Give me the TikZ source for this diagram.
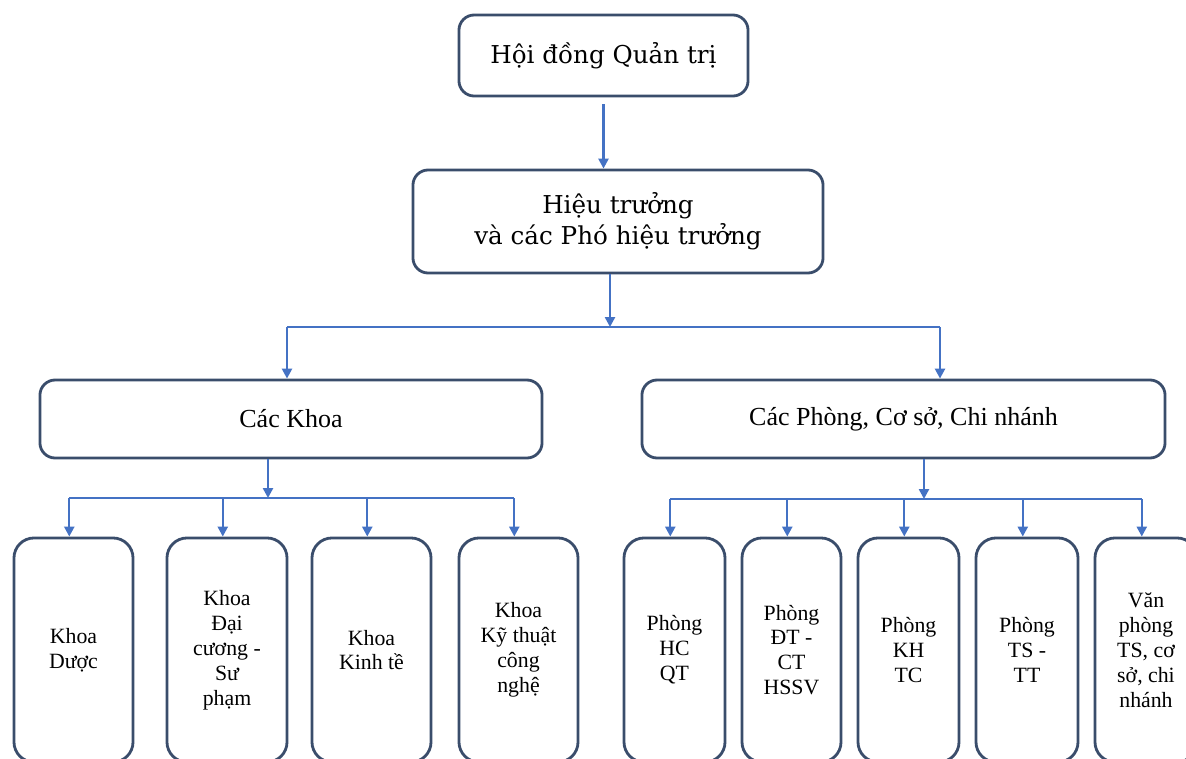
\documentclass[tikz,border=0pt]{standalone}
\usepackage{fontspec}
\setmainfont{Liberation Serif}
\newfontfamily\topfont{DejaVu Serif}
\usetikzlibrary{arrows.meta}
\definecolor{boxc}{RGB}{58,77,107}
\definecolor{linkc}{RGB}{68,114,196}

\begin{document}
\begin{tikzpicture}[x=0.025cm,y=-0.025cm]
\tikzstyle{box}=[draw=boxc,line width=2pt,rounded corners=0.38cm,align=center,inner sep=0pt]
\tikzstyle{head}=[box,font=\topfont\fontsize{17.5}{22}\selectfont]
\tikzstyle{group}=[box,minimum height=1.95cm,font=\fontsize{18.5}{22}\selectfont]
\tikzstyle{unit}=[box,rounded corners=0.5cm,minimum height=5.6cm,font=\fontsize{15.5}{17.7}\selectfont]
\tikzstyle{link}=[draw=linkc,line width=1.7pt]
\tikzstyle{arr}=[link,-{Triangle[length=7pt,width=7pt]}]
\useasboundingbox (0,0) rectangle (1186,758);

% top levels
\node[head,minimum width=7.225cm,minimum height=2.025cm] (hdqt) at (603.5,55.5) {Hội đồng Quản trị};
\node[head,minimum width=10.25cm,minimum height=2.575cm] (ht) at (618,221.5) {Hiệu trưởng\\và các Phó hiệu trưởng};
\node[group,minimum width=12.55cm] (khoa) at (291,419) {Các Khoa};
\node[group,minimum width=13.075cm] (phong) at (903.5,419) {Các Phòng, Cơ sở, Chi nhánh};

% faculties
\node[unit,minimum width=2.975cm] (k1) at (73.5,650) {Khoa\\Dược};
\node[unit,minimum width=3cm] (k2) at (227,650) {Khoa\\Đại\\cương -\\Sư\\phạm};
\node[unit,minimum width=2.975cm] (k3) at (371.5,650) {Khoa\\Kinh tề};
\node[unit,minimum width=2.975cm] (k4) at (518.5,650) {Khoa\\Kỹ thuật\\công\\nghệ};

% offices
\node[unit,minimum width=2.525cm] (p1) at (674.5,650) {Phòng\\HC\\QT};
\node[unit,minimum width=2.475cm] (p2) at (791.5,650) {Phòng\\ĐT -\\CT\\HSSV};
\node[unit,minimum width=2.525cm] (p3) at (908.5,650) {Phòng\\KH\\TC};
\node[unit,minimum width=2.55cm] (p4) at (1027,650) {Phòng\\TS -\\TT};
\node[unit,minimum width=2.55cm] (p5) at (1146,650) {Văn\\phòng\\TS, cơ\\sở, chi\\nhánh};

% connectors
\draw[arr,shorten <=5pt] (hdqt.south) -- (hdqt.south |- ht.north);
\coordinate (j1) at (610,327);
\coordinate (l1) at (287,327);
\coordinate (r1) at (940,327);
\draw[arr] (j1 |- ht.south) -- (j1);
\draw[link] (l1) -- (r1);
\draw[arr] (l1) -- (l1 |- khoa.north);
\draw[arr] (r1) -- (r1 |- phong.north);

\coordinate (j2) at (268,498);
\draw[arr] (j2 |- khoa.south) -- (j2);
\draw[link] ([xshift=-3pt]k1.north |- j2) -- ([xshift=-3pt]k4.north |- j2);
\foreach \n in {k1,k2,k3,k4}
  \draw[arr] ([xshift=-3pt]\n.north |- j2) -- ([xshift=-3pt]\n.north);

\coordinate (j3) at (924,499);
\draw[arr] (j3 |- phong.south) -- (j3);
\draw[link] ([xshift=-3pt]p1.north |- j3) -- ([xshift=-3pt]p5.north |- j3);
\foreach \n in {p1,p2,p3,p4,p5}
  \draw[arr] ([xshift=-3pt]\n.north |- j3) -- ([xshift=-3pt]\n.north);

\end{tikzpicture}
\end{document}
